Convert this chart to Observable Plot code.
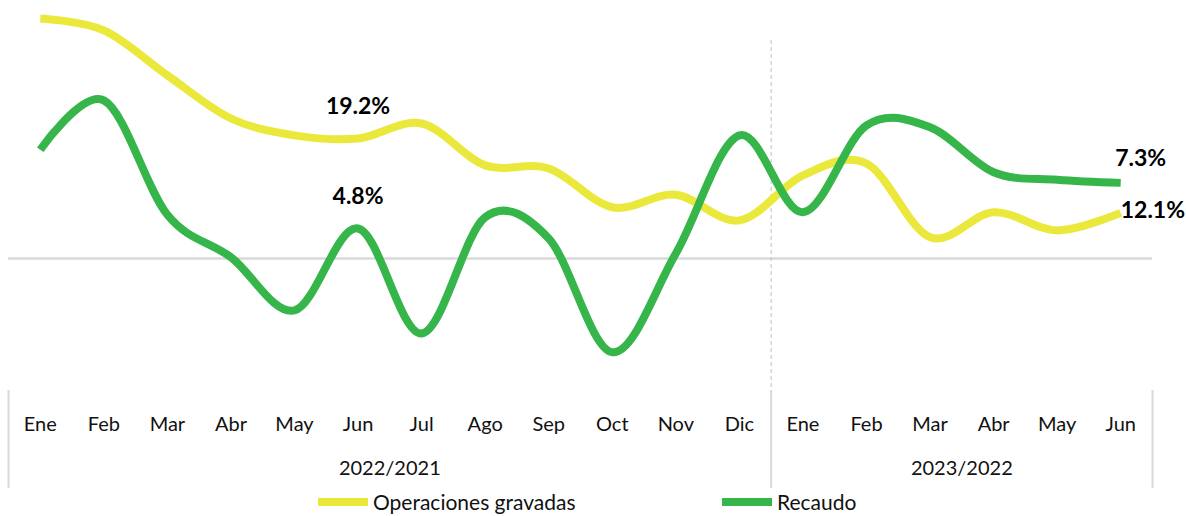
<!DOCTYPE html>
<html>
<head>
<meta charset="utf-8">
<script src="https://cdn.jsdelivr.net/npm/d3@7"></script>
<script src="https://cdn.jsdelivr.net/npm/@observablehq/plot@0.6"></script>
<style>
  html, body { margin: 0; padding: 0; background: #fff; overflow: hidden; }
  #wrap { position: relative; width: 1186px; height: 516px; font-family: Lato, "Open Sans", sans-serif; }
  .leg { position: absolute; top: 490px; display: flex; align-items: center; font-size: 21px; line-height: 24px; color: #111; height: 24px; }
  .sw { width: 50px; height: 8px; margin-right: 5px; }
</style>
</head>
<body>
<div id="wrap"></div>
<script>
const months = ["Ene","Feb","Mar","Abr","May","Jun","Jul","Ago","Sep","Oct","Nov","Dic","Ene","Feb","Mar","Abr","May","Jun"];
const groups = ["2022/2021", "2023/2022"];
const groupCenters = [5.5, 14.5];
const groupBorders = [-0.5, 11.5, 17.5];
const seriesNames = ["Operaciones gravadas", "Recaudo"];
const colors = ["#ebe83c", "#36b54a"];
const operaciones = [38.4, 36.5, 29.3, 22.4, 19.7, 19.2, 21.6, 14.9, 14.4, 8.2, 10.2, 6.1, 13.3, 15.2, 3.4, 7.4, 4.5, 7.3];
const recaudo = [17.4, 25.3, 7.0, 0.2, -8.3, 4.8, -12.0, 6.6, 3.2, -15.0, 0.8, 19.7, 7.4, 21.3, 21.0, 13.8, 12.6, 12.1];
// annotation labels: month index, series the label sits next to, text
const labels = [
  {i: 5, s: 0, text: "19.2%", anchor: "middle", dx: 0, dy: -32},
  {i: 5, s: 1, text: "4.8%", anchor: "middle", dx: 0, dy: -32},
  {i: 17, s: 1, text: "7.3%", anchor: "middle", dx: 20, dy: -24},
  {i: 17, s: 0, text: "12.1%", anchor: "start", dx: 0, dy: -2}
];

const rows = [];
months.forEach((m, i) => {
  rows.push({i, series: seriesNames[0], v: operaciones[i]});
  rows.push({i, series: seriesNames[1], v: recaudo[i]});
});
const labelRows = labels.map(d => ({...d, v: (d.s === 0 ? operaciones : recaudo)[d.i]}));
const groupMap = new Map(groupCenters.map((c, k) => [c, groups[k]]));

const chart = Plot.plot({
  width: 1186,
  height: 492,
  marginLeft: 8,
  marginRight: 34,
  marginTop: 10,
  marginBottom: 102,
  style: {fontFamily: "Lato, 'Open Sans', sans-serif", color: "#111", background: "#fff"},
  x: {type: "linear", domain: [-0.5, 17.5], axis: null},
  y: {domain: [-21.12, 39.68], axis: null},
  marks: [
    Plot.ruleY([0], {stroke: "#d9d9d9", strokeWidth: 2.5}),
    Plot.ruleX([groupBorders[1]], {stroke: "#bfbfbf", strokeWidth: 1, strokeDasharray: "4,3", insetTop: 30}),
    Plot.axisX(groupBorders, {tickSize: 98, tickFormat: () => "", label: null, stroke: "#d9d9d9", strokeWidth: 2}),
    Plot.axisX(d3.range(months.length), {tickSize: 0, tickPadding: 26, label: null, tickFormat: i => months[i], fontSize: 20, fill: "#111"}),
    Plot.axisX(groupCenters, {tickSize: 0, tickPadding: 70, label: null, tickFormat: c => groupMap.get(c), fontSize: 20, fill: "#111"}),
    Plot.line(rows, {x: "i", y: "v", z: "series", stroke: d => colors[seriesNames.indexOf(d.series)], strokeWidth: 8, curve: "cardinal", strokeLinecap: "butt"}),
    ...labelRows.map(d => Plot.text([d], {x: "i", y: "v", text: "text", textAnchor: d.anchor, dx: d.dx, dy: d.dy, fontSize: 23, fontWeight: "bold", fill: "#000"}))
  ]
});
const wrap = document.getElementById("wrap");
wrap.appendChild(chart);

const legendPos = [318, 722];
seriesNames.forEach((name, k) => {
  const el = document.createElement("div");
  el.className = "leg";
  el.style.left = legendPos[k] + "px";
  el.innerHTML = `<div class="sw" style="background:${colors[k]}"></div><span>${name}</span>`;
  wrap.appendChild(el);
});
</script>
</body>
</html>
